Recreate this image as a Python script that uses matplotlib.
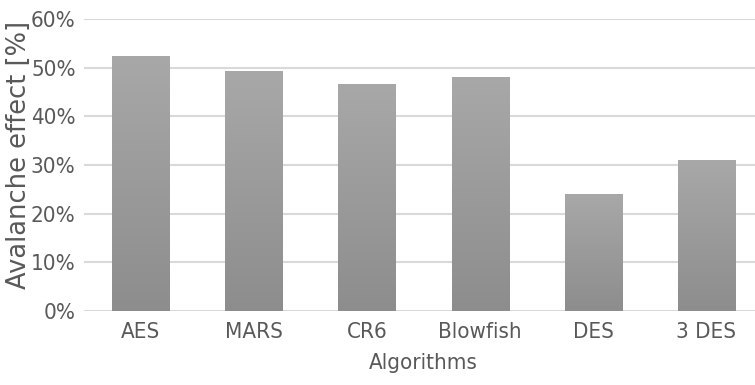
import numpy as np
import matplotlib.pyplot as plt
from matplotlib.colors import LinearSegmentedColormap
from matplotlib.ticker import FuncFormatter

plt.rcParams['font.family'] = ['DejaVu Sans']

algorithms = ['AES', 'MARS', 'CR6', 'Blowfish', 'DES', '3 DES']
avalanche = [52.4, 49.3, 46.6, 48.1, 24.0, 31.0]
yticks = [0, 10, 20, 30, 40, 50, 60]

txt = '#595959'

fig = plt.figure(figsize=(7.55, 3.85), dpi=100)
ax = fig.add_axes([84 / 755, 1 - 311 / 385, 679 / 755, 292 / 385])

ind = np.arange(len(algorithms))
bars = ax.bar(ind, avalanche, 0.505, color='#9c9c9c', zorder=3)

# vertical gradient on each bar, darker at the bottom
shade = LinearSegmentedColormap.from_list('shade', ['#8d8d8d', '#a8a8a8'])
grad = np.linspace(0, 1, 256).reshape(-1, 1)
for b in bars:
    x0, w, h = b.get_x(), b.get_width(), b.get_height()
    im = ax.imshow(grad, cmap=shade, aspect='auto',
                   extent=(x0, x0 + w, 0, h), origin='lower', zorder=4)
    im.set_clip_path(b)

ax.set_xlim(-0.5, len(algorithms) - 0.5)
ax.set_ylim(0, 60)
ax.set_yticks(yticks)
ax.yaxis.set_major_formatter(FuncFormatter(lambda v, p: '%d%%' % v))
ax.set_xticks(ind)
ax.set_xticklabels(algorithms)
ax.grid(axis='y', color='#d9d9d9', lw=1.5, zorder=0)
for s in ax.spines.values():
    s.set_visible(False)
ax.tick_params(length=0, labelsize=16, labelcolor=txt)
ax.tick_params(axis='y', pad=6)
ax.tick_params(axis='x', pad=8)
for lab in ax.get_xticklabels() + ax.get_yticklabels():
    lab.set_fontstretch('condensed')

ax.set_xlabel('Algorithms', fontsize=16, color=txt, fontstretch='condensed', labelpad=8)
fig.text(19 / 755, 1 - 155 / 385, 'Avalanche effect [%]', rotation=90,
         ha='center', va='center', fontsize=18.5, color=txt)

fig.savefig('out.png', dpi=100)
